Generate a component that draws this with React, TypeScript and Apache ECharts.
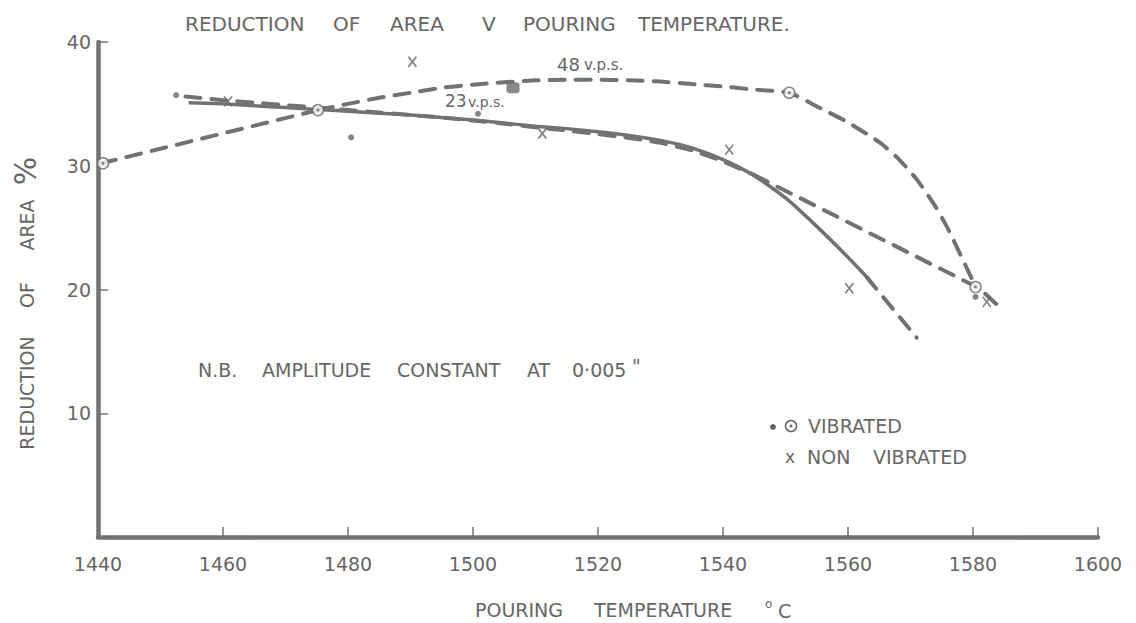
import React, { useEffect, useRef } from "react";
import * as echarts from "echarts";

// ---- data (x = pouring temperature °C, y = reduction of area %) ----
const solidCurve = [
  [1454.5, 35.1], [1460, 35.0], [1465, 34.85], [1470, 34.7], [1475, 34.55], [1480, 34.4],
  [1485, 34.25], [1490, 34.1], [1495, 33.9], [1500, 33.7], [1505, 33.45], [1510, 33.2],
  [1515, 33.0], [1520, 32.75], [1525, 32.45], [1530, 32.05], [1535, 31.45], [1540, 30.5],
  [1545, 29.2], [1550, 27.4], [1555, 25.1], [1560, 22.6], [1563, 21.0],
];
const solidExtension = [[1563, 21.0], [1571, 16.1]];
const vps23Curve = [
  [1454, 35.6], [1460, 35.3], [1465, 35.1], [1470, 34.9], [1475, 34.7], [1480, 34.5],
  [1485, 34.3], [1490, 34.1], [1495, 33.9], [1500, 33.65], [1505, 33.4], [1510, 33.1],
  [1515, 32.85], [1520, 32.55], [1525, 32.25], [1530, 31.85], [1535, 31.25], [1540, 30.35],
  [1545, 29.25],
];
const vps23Tail = [[1545, 29.25], [1581, 20.1], [1584, 18.7]];
const vps48Start = [[1440.5, 30.2], [1475.2, 34.5]];
const vps48Curve = [
  [1475.2, 34.5], [1480, 35.0], [1485, 35.5], [1490, 35.9], [1495, 36.3], [1500, 36.55],
  [1505, 36.75], [1510, 36.9], [1515, 36.95], [1520, 36.95], [1525, 36.9], [1530, 36.8],
  [1535, 36.6], [1540, 36.4], [1545, 36.15], [1550.6, 35.9], [1555, 34.8], [1560, 33.5],
  [1565, 31.9], [1568, 30.6], [1571, 28.9], [1574, 26.7], [1576, 24.9], [1578, 22.8],
  [1579.5, 21.2], [1580.4, 20.2],
];
const vibratedDots = [[1452.5, 35.7], [1480.5, 32.3], [1500.8, 34.2], [1580.4, 19.4]];
const vibratedLargeDot = [[1506.4, 36.3]];
const vibratedCircles = [[1440.8, 30.2], [1475.2, 34.5], [1550.6, 35.9], [1580.4, 20.2]];
const nonVibratedCrosses = [
  [1460.8, 35.2], [1490.3, 38.4], [1511.1, 32.6], [1541, 31.3], [1560.2, 20.1], [1582.2, 19.0],
];
const xMin = 1440;
const xMax = 1600;
const xStep = 20;
const yMin = 0;
const yMax = 40;
const yStep = 10;

const FONT = '"DejaVu Sans", sans-serif';
const INK = "#666666";
const LINE = "#727272";

function txt(text: string, x: number, y: number, size: number, extra: any = {}) {
  return {
    type: "text",
    x,
    y,
    rotation: extra.rotation || 0,
    silent: true,
    style: {
      text,
      font: `${size}px ${FONT}`,
      fill: INK,
      align: extra.align || "left",
      textAlign: extra.align || "left",
      verticalAlign: "middle",
      textVerticalAlign: "middle",
    },
  };
}

export default function App() {
  const ref = useRef<HTMLDivElement>(null);
  useEffect(() => {
    if (!ref.current) return;
    const chart = echarts.init(ref.current, null, { renderer: "svg" });
    const dashed = (data: number[][], smooth: number | boolean) => ({
      type: "line",
      data,
      smooth,
      symbol: "none",
      clip: false,
      silent: true,
      lineStyle: { color: LINE, width: 4, type: [15, 11], cap: "round" },
    });
    const option: any = {
      animation: false,
      backgroundColor: "#ffffff",
      grid: { left: 98, right: 38, top: 42, bottom: 86 },
      xAxis: {
        type: "value",
        min: xMin,
        max: xMax,
        interval: xStep,
        axisLine: { lineStyle: { color: LINE, width: 4.5 } },
        axisTick: { inside: true, length: 10, lineStyle: { color: LINE, width: 1.5 } },
        axisLabel: {
          fontSize: 19,
          fontFamily: FONT,
          color: INK,
          margin: 17,
          formatter: (v: number) => String(v),
        },
        splitLine: { show: false },
      },
      yAxis: {
        type: "value",
        min: yMin,
        max: yMax,
        interval: yStep,
        axisLine: { show: true, lineStyle: { color: LINE, width: 4.5 } },
        axisTick: { show: true, inside: true, length: 10, lineStyle: { color: LINE, width: 1.5 } },
        axisLabel: {
          fontSize: 19,
          fontFamily: FONT,
          color: INK,
          margin: 7,
          formatter: (v: number) => (v === 0 ? "" : String(v)),
        },
        splitLine: { show: false },
      },
      series: [
        {
          type: "line",
          data: solidCurve,
          smooth: 0.2,
          symbol: "none",
          clip: false,
          silent: true,
          lineStyle: { color: LINE, width: 3.5 },
        },
        dashed(solidExtension, false),
        dashed(vps23Curve, 0.2),
        dashed(vps23Tail, false),
        dashed(vps48Start, false),
        dashed(vps48Curve, 0.2),
        {
          type: "scatter",
          data: vibratedDots,
          symbol: "circle",
          symbolSize: 6,
          clip: false,
          itemStyle: { color: "#666666" },
          z: 5,
        },
        {
          type: "scatter",
          data: vibratedLargeDot,
          symbol: "roundRect",
          symbolSize: [13, 11],
          clip: false,
          itemStyle: { color: "#6a6a6a" },
          z: 5,
        },
        {
          type: "scatter",
          data: vibratedCircles,
          symbol: "circle",
          symbolSize: 11,
          clip: false,
          itemStyle: { color: "#ffffff", borderColor: "#666666", borderWidth: 1.5 },
          z: 6,
        },
        {
          type: "scatter",
          data: vibratedCircles,
          symbol: "circle",
          symbolSize: 3,
          clip: false,
          itemStyle: { color: "#666666" },
          z: 7,
        },
        {
          type: "scatter",
          data: nonVibratedCrosses,
          symbol: "path://M0,0L10,12M10,0L0,12",
          symbolSize: [8, 10],
          clip: false,
          itemStyle: { color: "rgba(0,0,0,0)", borderColor: "#666666", borderWidth: 1.8 },
          z: 6,
        },
      ],
      graphic: [
        // title
        txt("REDUCTION", 185, 24, 20),
        txt("OF", 333, 24, 20),
        txt("AREA", 390, 24, 20),
        txt("V", 482, 24, 20),
        txt("POURING", 523, 24, 20),
        txt("TEMPERATURE.", 638, 24, 20),
        // y axis title (rotated)
        txt("REDUCTION", 27, 393, 19, { rotation: Math.PI / 2, align: "center" }),
        txt("OF", 27, 295, 19, { rotation: Math.PI / 2, align: "center" }),
        txt("AREA", 27, 225, 19, { rotation: Math.PI / 2, align: "center" }),
        txt("%", 25, 171, 30, { rotation: Math.PI / 2, align: "center" }),
        // x axis title
        txt("POURING", 475, 610, 19),
        txt("TEMPERATURE", 594, 610, 19),
        txt("o", 765, 604, 12),
        txt("C", 778, 611, 19),
        // note
        txt("N.B.", 198, 370, 19),
        txt("AMPLITUDE", 262, 370, 19),
        txt("CONSTANT", 397, 370, 19),
        txt("AT", 527, 370, 19),
        txt("0·005", 572, 370, 19),
        txt('"', 632, 366, 19),
        // curve labels
        txt("48", 557, 64, 18),
        txt("v.p.s.", 584, 65, 15),
        txt("23", 445, 101, 17),
        txt("v.p.s.", 468, 102, 14),
        // legend
        {
          type: "circle",
          silent: true,
          shape: { cx: 773, cy: 427, r: 3 },
          style: { fill: "#666666" },
        },
        {
          type: "circle",
          silent: true,
          shape: { cx: 791, cy: 426, r: 5.5 },
          style: { fill: "#ffffff", stroke: "#666666", lineWidth: 1.5 },
        },
        {
          type: "circle",
          silent: true,
          shape: { cx: 791, cy: 426, r: 1.5 },
          style: { fill: "#666666" },
        },
        txt("VIBRATED", 808, 426, 19),
        txt("x", 785, 457, 17),
        txt("NON", 807, 457, 19),
        txt("VIBRATED", 873, 457, 19),
      ],
    };
    chart.setOption(option);
    return () => chart.dispose();
  }, []);
  return (
    <div
      ref={ref}
      style={{ position: "fixed", left: 0, top: 0, width: 1136, height: 623, background: "#fff" }}
    />
  );
}
